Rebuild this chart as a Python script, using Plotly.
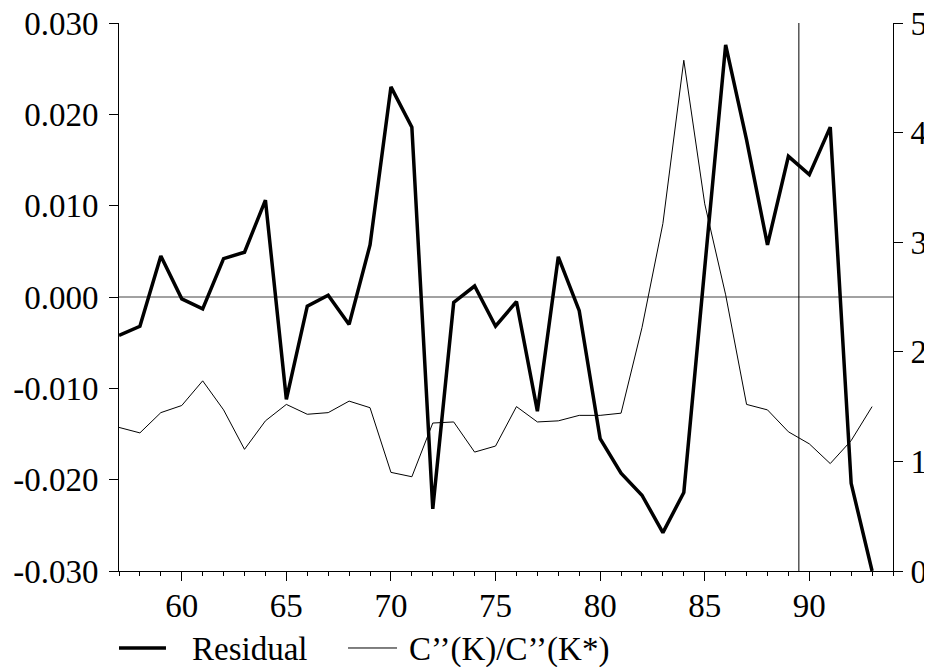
import plotly.graph_objects as go

years = list(range(57, 94))
residual = [-0.0042, -0.0032, 0.0045, -0.0002, -0.0013, 0.0042, 0.0049, 0.0106,
            -0.0112, -0.0010, 0.0002, -0.0030, 0.0057, 0.0230, 0.0186, -0.0232,
            -0.0006, 0.0012, -0.0032, -0.0005, -0.0125, 0.0044, -0.0015, -0.0155,
            -0.0193, -0.0217, -0.0258, -0.0214, 0.0032, 0.0276, 0.0172, 0.0057,
            0.0154, 0.0134, 0.0186, -0.0204, -0.0300]
curv_ratio = [1.31, 1.26, 1.445, 1.51, 1.735, 1.47, 1.11, 1.37,
              1.52, 1.43, 1.445, 1.55, 1.49, 0.90, 0.86, 1.35,
              1.36, 1.085, 1.14, 1.50, 1.36, 1.37, 1.42, 1.42,
              1.44, 2.22, 3.17, 4.66, 3.35, 2.52, 1.52, 1.47,
              1.27, 1.16, 0.98, 1.19, 1.50]

series_names = ["Residual", "C\u2019\u2019(K)/C\u2019\u2019(K*)"]
left_ticks = [-0.03, -0.02, -0.01, 0.0, 0.01, 0.02, 0.03]
left_labels = ["-0.030", "-0.020", "-0.010", "0.000", "0.010", "0.020", "0.030"]
right_ticks = [0, 1, 2, 3, 4, 5]
x_ticks = [60, 65, 70, 75, 80, 85, 90]
marker_year = 89.5

FONT = "Liberation Serif, DejaVu Serif, serif"
widths = [3.5, 1]

fig = go.Figure()
fig.add_trace(go.Scatter(x=years, y=residual, mode="lines", name=series_names[0],
                         line=dict(color="black", width=widths[0]), yaxis="y",
                         showlegend=False))
fig.add_trace(go.Scatter(x=years, y=curv_ratio, mode="lines", name=series_names[1],
                         line=dict(color="black", width=widths[1]), yaxis="y2",
                         showlegend=False))

fig.add_hline(y=0, line=dict(color="#444", width=1), layer="below")
fig.add_vline(x=marker_year, line=dict(color="black", width=1), layer="below")

# legend drawn below the plot (paper coordinates)
legend_items = [(0.0, 0.0607, 0.0917), (0.2959, 0.3592, 0.3721)]
for (x0, x1, xt), name, w in zip(legend_items, series_names, widths):
    fig.add_shape(type="line", xref="paper", yref="paper", x0=x0, x1=x1,
                  y0=-0.1405, y1=-0.1405, line=dict(color="black", width=w))
    fig.add_annotation(xref="paper", yref="paper", x=xt, y=-0.143, text=name,
                       showarrow=False, xanchor="left", yanchor="middle",
                       font=dict(family=FONT, size=33, color="black"))

# page body adds an 8px offset; the figure is sized so it fits the window
fig.update_layout(
    width=924, height=659,
    margin=dict(l=111, r=39, t=15, b=96),
    paper_bgcolor="white", plot_bgcolor="white",
    font=dict(family=FONT, size=33, color="black"),
    showlegend=False,
    xaxis=dict(range=[57, 94], tickvals=x_ticks, ticks="outside", ticklen=9,
               tickcolor="black", tickwidth=1, showline=True, linecolor="black",
               linewidth=1, showgrid=False, zeroline=False, automargin=False,
               ticklabeloverflow="allow", ticklabelstandoff=-4,
               tickfont=dict(family=FONT, size=33, color="black"),
               minor=dict(dtick=1, tick0=57, ticks="outside", ticklen=4,
                          tickcolor="black", tickwidth=1, showgrid=False)),
    yaxis=dict(range=[-0.03, 0.03], tickvals=left_ticks, ticktext=left_labels,
               ticks="outside", ticklen=9, tickcolor="black", tickwidth=1,
               showline=True, linecolor="black", linewidth=1, showgrid=False,
               zeroline=False, automargin=False, ticklabeloverflow="allow",
               ticklabelstandoff=4,
               tickfont=dict(family=FONT, size=33, color="black")),
    yaxis2=dict(range=[0, 5], tickvals=right_ticks, overlaying="y", side="right",
                ticks="outside", ticklen=9, tickcolor="black", tickwidth=1,
                showline=True, linecolor="black", linewidth=1, showgrid=False,
                zeroline=False, automargin=False, ticklabeloverflow="allow",
                ticklabelstandoff=1,
                tickfont=dict(family=FONT, size=33, color="black")),
)

fig.write_html("out.html")
